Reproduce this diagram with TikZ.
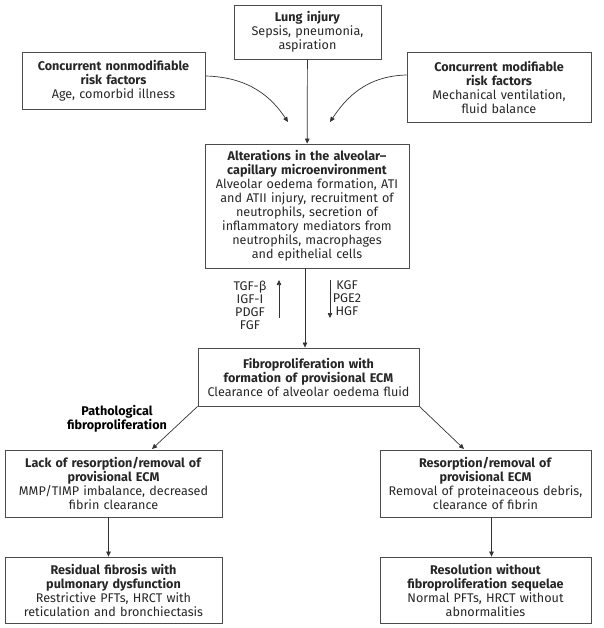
\documentclass[tikz,border=0pt]{standalone}
\usepackage{fontspec}
\setmainfont{Fira Sans}
\usetikzlibrary{arrows.meta}

\tikzset{
  box/.style={draw=black!70, line width=0.8pt, align=center, inner sep=2pt, text=black!85,
    font=\fontsize{12.6}{14}\selectfont},
  arr/.style={-{Triangle[length=5pt,width=4.5pt]}, draw=black!80, line width=0.7pt},
  fac/.style={align=center, inner sep=0pt, text=black!85, font=\fontsize{12.6}{13}\selectfont}
}

\begin{document}
\begin{tikzpicture}[x=1pt,y=-1pt]

% Picture frame (pixel units, y going down)
\useasboundingbox (0,0) rectangle (603,628);

% Top row
\node[box, text width=143, minimum height=54] (injury) at (307.5,32)
  {\textbf{Lung injury}\\Sepsis, pneumonia,\\aspiration};
\node[box, text width=179, minimum height=57] (nonmod) at (113.5,80.5)
  {\textbf{Concurrent nonmodifiable}\\\textbf{risk factors}\\Age, comorbid illness};
\node[box, text width=180, minimum height=70] (mod) at (499,87)
  {\textbf{Concurrent modifiable}\\\textbf{risk factors}\\Mechanical ventilation,\\fluid balance};

% Microenvironment
\node[box, text width=200, minimum height=124] (alter) at (307,206)
  {\textbf{Alterations in the alveolar--}\\\textbf{capillary microenvironment}\\
   Alveolar oedema formation, ATI\\and ATII injury, recruitment of\\
   neutrophils, secretion of\\inflammatory mediators from\\
   neutrophils, macrophages\\and epithelial cells};

% Growth factors
\node[fac] (profib) at (250,305) {TGF-β\\IGF-I\\PDGF\\FGF};
\node[fac] (antifib) at (347,298.5) {KGF\\PGE2\\HGF};
\coordinate (upbot) at (279,318);
\coordinate (uptop) at (279,280);
\coordinate (dntop) at (330,280);
\coordinate (dnbot) at (330,318);

% Fibroproliferation
\node[box, text width=217, minimum height=58] (fibro) at (308.5,377)
  {\textbf{Fibroproliferation with}\\\textbf{formation of provisional ECM}\\Clearance of alveolar oedema fluid};
\node[fac, text=black, font=\fontsize{12.6}{14}\selectfont\bfseries] (patho) at (117,419)
  {Pathological\\fibroproliferation};

% Two outcomes
\node[box, text width=213, minimum height=67] (lack) at (113.5,483.5)
  {\textbf{Lack of resorption/removal of}\\\textbf{provisional ECM}\\MMP/TIMP imbalance, decreased\\fibrin clearance};
\node[box, text width=207, minimum height=67] (resorp) at (485.5,483.5)
  {\textbf{Resorption/removal of}\\\textbf{provisional ECM}\\Removal of proteinaceous debris,\\clearance of fibrin};
\node[box, text width=213, minimum height=66] (resid) at (113.5,590)
  {\textbf{Residual fibrosis with}\\\textbf{pulmonary dysfunction}\\Restrictive PFTs, HRCT with\\reticulation and bronchiectasis};
\node[box, text width=207, minimum height=66] (resol) at (485.5,590)
  {\textbf{Resolution without}\\\textbf{fibroproliferation sequelae}\\Normal PFTs, HRCT without\\abnormalities};

% Arrow ends
\coordinate (lefttip) at (288,122);
\coordinate (righttip) at (330,122);
\coordinate (lacktip) at (152,449);
\coordinate (resorptip) at (464,449);

% Connectors
\draw[arr] (injury) -- (alter);
\draw[arr] ([yshift=4.5pt]nonmod.east) .. controls (250,77) and (272,98) .. (lefttip);
\draw[arr] ([yshift=12pt]mod.west) .. controls (366,76) and (346,98) .. (righttip);
\draw[arr] (upbot) -- (uptop);
\draw[arr] (dntop) -- (dnbot);
\draw[arr] ([xshift=-2pt]alter.south) -- ([xshift=-2pt]alter.south |- fibro.north);
\draw[arr] (fibro.south west) -- (lacktip);
\draw[arr] (fibro.south east) -- (resorptip);
\draw[arr] ([xshift=-5pt]lack.south) -- ([xshift=-5pt]resid.north);
\draw[arr] ([xshift=6pt]resorp.south) -- ([xshift=6pt]resol.north);
\end{tikzpicture}
\end{document}
